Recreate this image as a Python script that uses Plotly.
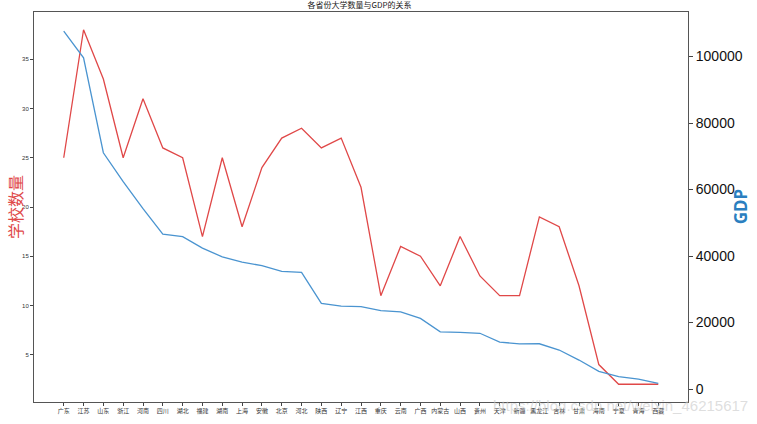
import plotly.graph_objs as go

provinces = ['广东', '江苏', '山东', '浙江', '河南', '四川', '湖北', '福建', '湖南', '上海',
             '安徽', '北京', '河北', '陕西', '辽宁', '江西', '重庆', '云南', '广西', '内蒙古',
             '山西', '贵州', '天津', '新疆', '黑龙江', '吉林', '甘肃', '海南', '宁夏', '青海', '西藏']

school_count = [25, 38, 33, 25, 31, 26, 25, 17, 25, 18,
                24, 27, 28, 26, 27, 22, 11, 16, 15, 12,
                17, 13, 11, 11, 19, 18, 12, 4, 2, 2, 2]

gdp = [107671, 99632, 71068, 62352, 54259, 46616, 45828, 42395, 39752, 38155,
       37114, 35371, 35105, 25793, 24909, 24758, 23606, 23224, 21237, 17213,
       17027, 16769, 14104, 13597, 13613, 11727, 8718, 5309, 3748, 2966, 1698]

left_ticks = [5, 10, 15, 20, 25, 30, 35]
right_ticks = [0, 20000, 40000, 60000, 80000, 100000]

cjk = 'Noto Sans CJK SC'
red = '#e04848'
blue = '#4a94d0'

schools = go.Scatter(
    name='学校数量',
    x=list(range(len(provinces))),
    y=school_count,
    mode='lines',
    line=dict(color=red, width=1.3))

gdp_line = go.Scatter(
    name='GDP',
    x=list(range(len(provinces))),
    y=gdp,
    yaxis='y2',
    mode='lines',
    line=dict(color=blue, width=1.3))

layout = go.Layout(
    width=757, height=424,
    margin=dict(l=34, r=69, t=12, b=22),
    paper_bgcolor='white',
    plot_bgcolor='white',
    showlegend=False,
    title=dict(text='各省份大学数量与GDP的关系', x=0.475, xanchor='center', y=0.995, yanchor='top',
               font=dict(family=cjk, size=8, color='#222')),
    xaxis=dict(
        range=[-1.5, 31.5],
        tickvals=list(range(len(provinces))),
        ticktext=provinces,
        tickangle=0,
        automargin=False,
        ticks='outside', ticklen=3, tickcolor='#444',
        tickfont=dict(family=cjk, size=6, color='#333'),
        showgrid=False, zeroline=False,
        showline=True, linecolor='#555', linewidth=1, mirror=True),
    yaxis=dict(
        range=[0.2, 39.8],
        tickvals=left_ticks,
        automargin=False,
        ticks='outside', ticklen=3, tickcolor='#444',
        tickfont=dict(family='Liberation Sans', size=6, color='#333'),
        showgrid=False, zeroline=False,
        showline=True, linecolor='#555', linewidth=1, mirror=True),
    yaxis2=dict(
        range=[-3900, 113400],
        tickvals=right_ticks,
        ticktext=[str(v) for v in right_ticks],
        overlaying='y', side='right',
        automargin=False,
        ticks='outside', ticklen=4, tickcolor='#444',
        tickfont=dict(family='Liberation Sans', size=14, color='#111'),
        showgrid=False, zeroline=False,
        showline=True, linecolor='#555', linewidth=1),
    annotations=[
        dict(text='学校数量', xref='paper', yref='paper', x=-0.029, y=0.5,
             xanchor='center', yanchor='middle', textangle=-90, showarrow=False,
             font=dict(family=cjk, size=16, color=red)),
        dict(text='<b>GDP</b>', xref='paper', yref='paper', x=1.08, y=0.5,
             xanchor='center', yanchor='middle', textangle=-90, showarrow=False,
             font=dict(family='Noto Sans', size=17, color='#2b7fc0')),
        dict(text='https://blog.csdn.net/weixin_46215617',
             xref='paper', yref='paper', x=1.095, y=-0.01, xanchor='right', yanchor='middle',
             showarrow=False,
             font=dict(family='Liberation Sans', size=15, color='rgba(200,200,200,0.6)'))])

fig = go.Figure(data=[schools, gdp_line], layout=layout)
# plain page: no default 8px body margin, no modebar
fig.write_html('out.html', config={'displayModeBar': False},
               post_script="document.body.style.margin='0';")
